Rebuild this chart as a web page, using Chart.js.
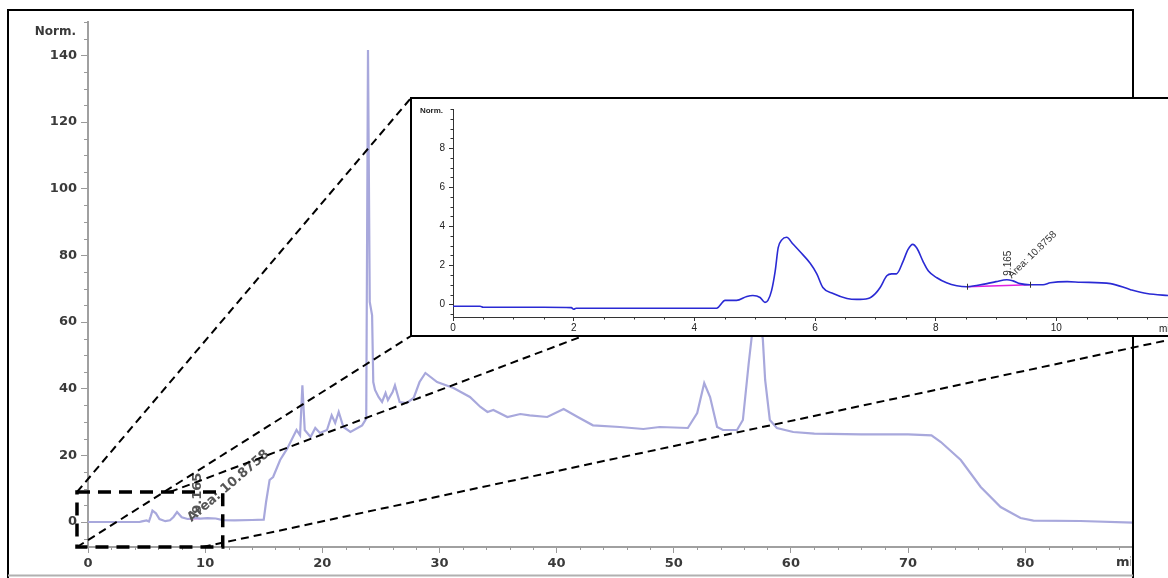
<!DOCTYPE html>
<html><head><meta charset="utf-8">
<script src="https://cdn.jsdelivr.net/npm/chart.js@4.4.1/dist/chart.umd.min.js"></script>
<style>
html,body{margin:0;padding:0;background:#fff;overflow:hidden;width:1168px;height:578px;}
#main{position:absolute;left:0;top:0;}
#insetBox{position:absolute;left:410px;top:97px;width:790px;height:240px;border:2px solid #000;box-sizing:border-box;background:#fff;}
#inset{position:absolute;left:0;top:0;}
</style></head><body>
<canvas id="main" width="1168" height="578"></canvas>
<div id="insetBox"><canvas id="inset" width="786" height="236"></canvas></div>
<script>
// ---- main chromatogram (time in min, signal in Norm.) ----
const mainX = [0,4.4,4.6,5.0,5.2,5.35,5.5,5.8,6.1,6.6,
  7.0,7.3,7.6,8.0,8.5,9.2,9.6,10.2,10.9,11.5,
  12.5,14.0,15.0,15.2,15.5,15.8,16.4,17.0,17.5,17.8,
  18.1,18.3,18.5,19.0,19.4,19.8,20.4,20.8,21.1,21.4,
  21.8,22.4,23.4,23.75,23.9,24.05,24.25,24.35,24.5,24.8,
  25.1,25.4,25.6,26.0,26.2,26.6,27.2,27.8,28.3,28.8,
  29.8,31.2,32.6,33.5,34.1,34.6,35.8,36.9,37.7,39.2,
  40.6,41.8,43.1,45.4,47.4,48.8,51.2,52.0,52.6,53.1,
  53.7,54.2,55.4,55.9,56.4,56.8,57.2,57.6,57.8,58.2,
  58.8,60.2,62.0,66.0,70.0,72.0,72.8,74.5,76.2,77.9,
  79.6,80.7,84.7,89.2];
const mainY = [0,0,0.2,0.45,0.15,1.7,3.4,2.6,0.9,0.25,
  0.5,1.5,3.0,1.4,0.9,1.25,1.0,1.15,1.05,0.55,
  0.5,0.6,0.7,6,12.6,13.5,18.6,22,25.5,27.6,
  26,41,27.6,25.5,28.2,26.7,27.6,32,29.7,33,
  28.5,27,29,31,141.6,66,62,42,39.6,37.5,
  36,38.7,36.6,39,41,36,35.7,37.2,42,44.7,
  42,40.2,37.5,34.5,33,33.6,31.5,32.4,32,31.5,
  33.9,31.5,29,28.5,27.9,28.5,28.2,32.7,41.7,37.5,
  28.5,27.6,27.6,30.6,47.7,60,62,55,42.6,30.6,
  28.2,27,26.5,26.3,26.3,26,24,18.6,10.5,4.5,
  1.2,0.4,0.3,-0.2];
const mainXTicks = [0,10,20,30,40,50,60,70,80];
const mainYTicks = [0,20,40,60,80,100,120,140];

// ---- inset (zoom of 0-12 min) ----
const insetX = [0,0.45,0.5,1.0,1.5,1.96,2.0,2.04,2.5,3.0,
  3.5,4.0,4.37,4.51,4.7,4.87,4.97,5.09,5.17,5.22,
  5.28,5.34,5.39,5.45,5.53,5.63,5.75,5.92,6.03,6.13,
  6.3,6.53,6.69,6.88,7.0,7.08,7.19,7.27,7.35,7.46,
  7.54,7.62,7.69,7.79,7.88,8.02,8.18,8.35,8.52,8.7,
  8.85,9.0,9.18,9.28,9.4,9.56,9.78,9.9,10.18,10.4,
  10.9,11.23,11.5,11.85,12.0];
const insetY = [-0.1,-0.1,-0.15,-0.15,-0.15,-0.17,-0.25,-0.2,-0.2,-0.2,
  -0.2,-0.2,-0.2,0.2,0.2,0.4,0.45,0.35,0.1,0.2,
  0.7,1.7,2.9,3.3,3.43,3.1,2.7,2.1,1.56,0.86,
  0.55,0.3,0.25,0.3,0.55,0.86,1.46,1.56,1.56,2.2,
  2.8,3.07,2.87,2.2,1.7,1.36,1.1,0.95,0.9,0.98,
  1.06,1.16,1.26,1.2,1.06,1.0,1.0,1.1,1.16,1.13,
  1.06,0.75,0.55,0.45,0.42];
const insetXTicks = [0,2,4,6,8,10];
const insetYTicks = [0,2,4,6,8];

// integrated peak
const peakRT = 9.165;
const peakHeight = 1.26;
const peakArea = '10.8758';
const baseX = [8.52, 9.56];
const baseY = [0.9, 1.0];

const zoomBox = {x0:-0.94, x1:11.5, y0:-7.5, y1:9};

const pts = (xs, ys) => xs.map((v,i)=>({x:v, y:ys[i]}));
const MAINFONT = '"DejaVu Sans", sans-serif';
const INFONT = '"Liberation Sans", Arial, sans-serif';

const mainDecor = {
  id:'mainDecor',
  afterDraw(chart){
    const {ctx, chartArea:ca} = chart;
    const x = chart.scales.x, y = chart.scales.y;
    ctx.save();
    // minor ticks
    ctx.strokeStyle = '#9a9a9a'; ctx.lineWidth = 1;
    ctx.beginPath();
    for (let v=-5; v<=150; v+=5){
      if (v%20===0) continue;
      const py = Math.round(y.getPixelForValue(v))+0.5;
      ctx.moveTo(ca.left-4, py); ctx.lineTo(ca.left, py);
    }
    for (let v=2; v<=88; v+=2){
      if (v%10===0) continue;
      const px = Math.round(x.getPixelForValue(v))+0.5;
      ctx.moveTo(px, ca.bottom); ctx.lineTo(px, ca.bottom+3);
    }
    ctx.stroke();
    // axis unit labels
    ctx.fillStyle = '#3a3a3a';
    ctx.font = 'bold 12px '+MAINFONT;
    ctx.textAlign = 'right'; ctx.textBaseline = 'middle';
    ctx.fillText('Norm.', ca.left-12, y.getPixelForValue(147));
    ctx.save();
    ctx.beginPath(); ctx.rect(0,0,ca.right-2,578); ctx.clip();
    ctx.font = 'bold 13px '+MAINFONT;
    ctx.textAlign = 'left';
    ctx.fillText('min', ca.right-17, ca.bottom+16);
    ctx.restore();
    // peak annotation
    const px = x.getPixelForValue(peakRT), py = y.getPixelForValue(peakHeight);
    ctx.fillStyle = '#555';
    ctx.font = 'bold 13px '+MAINFONT;
    ctx.save(); ctx.translate(px+2, py-4); ctx.rotate(-Math.PI/2);
    ctx.textAlign='left'; ctx.textBaseline='middle'; ctx.fillText(String(peakRT),0,0); ctx.restore();
    ctx.save(); ctx.translate(px-6, py+2); ctx.rotate(-0.71);
    ctx.textAlign='left'; ctx.textBaseline='middle'; ctx.fillText('Area: '+peakArea,0,0); ctx.restore();
    // frame
    ctx.strokeStyle = '#000'; ctx.lineWidth = 2;
    ctx.beginPath();
    ctx.moveTo(8, 578); ctx.lineTo(8, 10); ctx.lineTo(1133, 10); ctx.lineTo(1133, 578);
    ctx.stroke();
    ctx.strokeStyle = '#b0b0b0'; ctx.beginPath(); ctx.moveTo(8,575.5); ctx.lineTo(1133,575.5); ctx.stroke();
    // dashed zoom box
    const bx0 = x.getPixelForValue(zoomBox.x0), bx1 = x.getPixelForValue(zoomBox.x1);
    const by0 = y.getPixelForValue(zoomBox.y0), by1 = y.getPixelForValue(zoomBox.y1);
    ctx.strokeStyle = '#000'; ctx.lineWidth = 3.5; ctx.setLineDash([13,8]);
    ctx.strokeRect(bx0, by1, bx1-bx0, by0-by1);
    // connectors to inset
    const box = document.getElementById('insetBox');
    const L = box.offsetLeft+1, T = box.offsetTop+1, B = box.offsetTop+box.offsetHeight-1;
    ctx.lineWidth = 2; ctx.setLineDash([8,5]);
    const seg = (a,b,c,d)=>{ctx.beginPath();ctx.moveTo(a,b);ctx.lineTo(c,d);ctx.stroke();};
    seg(bx0, by1, L, T);
    seg(bx0, by0, L, B);
    seg(x.getPixelForValue(7.0), by1, L+172, B);
    seg(x.getPixelForValue(9.8), by0, L+790, B-3);
    ctx.restore();
  }
};

new Chart(document.getElementById('main'), {
  type:'line',
  data:{datasets:[
    {data:pts(mainX, mainY), borderColor:'#a8a8dc', borderWidth:2.2, pointRadius:0, tension:0},
    {data:pts(baseX, baseY), borderColor:'#e030e0', borderWidth:1.2, pointRadius:0}
  ]},
  options:{
    responsive:false, animation:false, events:[],
    layout:{padding:{left:0, top:22, right:35, bottom:0}},
    plugins:{legend:{display:false}, tooltip:{enabled:false}},
    scales:{
      x:{type:'linear', min:0, max:89.2,
        afterBuildTicks:s=>{s.ticks = mainXTicks.map(v=>({value:v}));},
        afterFit:s=>{s.height = 31;},
        ticks:{autoSkip:false, maxRotation:0, padding:3, color:'#3a3a3a', font:{family:MAINFONT, size:13, weight:'bold'}},
        grid:{drawOnChartArea:false, drawTicks:true, tickLength:6, color:'#9a9a9a'},
        border:{display:true, color:'#a0a0a0', width:2}},
      y:{type:'linear', min:-7.5, max:150,
        afterBuildTicks:s=>{s.ticks = mainYTicks.map(v=>({value:v}));},
        afterFit:s=>{s.width = 88;},
        ticks:{padding:4, color:'#3a3a3a', font:{family:MAINFONT, size:13, weight:'bold'}},
        grid:{drawOnChartArea:false, drawTicks:true, tickLength:7, color:'#9a9a9a'},
        border:{display:true, color:'#a0a0a0', width:2}}
    }
  },
  plugins:[mainDecor]
});

const insetDecor = {
  id:'insetDecor',
  afterDraw(chart){
    const {ctx, chartArea:ca} = chart;
    const x = chart.scales.x, y = chart.scales.y;
    ctx.save();
    ctx.strokeStyle = '#333'; ctx.lineWidth = 1;
    ctx.beginPath();
    for (let v=-0.5; v<=10.001; v+=0.5){
      if (Math.abs(v/2-Math.round(v/2))<1e-6 && v<=8) continue;
      const py = Math.round(y.getPixelForValue(v))+0.5;
      ctx.moveTo(ca.left-2.5, py); ctx.lineTo(ca.left, py);
    }
    for (let v=0.5; v<=12; v+=0.5){
      if (Math.abs(v/2-Math.round(v/2))<1e-6) continue;
      const px = Math.round(x.getPixelForValue(v))+0.5;
      ctx.moveTo(px, ca.bottom); ctx.lineTo(px, ca.bottom+2.5);
    }
    // integration end markers
    for (let i=0;i<2;i++){
      const px = Math.round(x.getPixelForValue(baseX[i]))+0.5, py = y.getPixelForValue(baseY[i]);
      ctx.moveTo(px, py-3); ctx.lineTo(px, py+3);
    }
    ctx.stroke();
    ctx.fillStyle = '#222';
    ctx.font = 'bold 8px '+INFONT;
    ctx.textAlign='right'; ctx.textBaseline='middle';
    ctx.fillText('Norm.', ca.left-10, ca.top+2);
    ctx.font = '10px '+INFONT; ctx.textAlign='left';
    ctx.fillText('min', x.getPixelForValue(11.7), ca.bottom+12);
    const px = x.getPixelForValue(peakRT), py = y.getPixelForValue(peakHeight);
    ctx.fillStyle = '#333';
    ctx.save(); ctx.translate(px+2, py-4); ctx.rotate(-Math.PI/2);
    ctx.textBaseline='middle'; ctx.fillText(String(peakRT),0,0); ctx.restore();
    ctx.save(); ctx.translate(px+4, py-3); ctx.rotate(-0.77);
    ctx.textBaseline='middle'; ctx.fillText('Area: '+peakArea,0,0); ctx.restore();
    ctx.restore();
  }
};

new Chart(document.getElementById('inset'), {
  type:'line',
  data:{datasets:[
    {data:pts(insetX, insetY), borderColor:'#2a2ad4', borderWidth:1.6, pointRadius:0, cubicInterpolationMode:'monotone'},
    {data:pts(baseX, baseY), borderColor:'#e020e0', borderWidth:1.4, pointRadius:0}
  ]},
  options:{
    responsive:false, animation:false, events:[],
    layout:{padding:{left:0, top:6, right:21, bottom:0}},
    plugins:{legend:{display:false}, tooltip:{enabled:false}},
    scales:{
      x:{type:'linear', min:0, max:12,
        afterBuildTicks:s=>{s.ticks = insetXTicks.map(v=>({value:v}));},
        afterFit:s=>{s.height = 18;},
        ticks:{autoSkip:false, maxRotation:0, padding:1, color:'#222', font:{family:INFONT, size:10}},
        grid:{drawOnChartArea:false, drawTicks:true, tickLength:4, color:'#333'},
        border:{display:true, color:'#333', width:1}},
      y:{type:'linear', min:-0.65, max:10,
        afterBuildTicks:s=>{s.ticks = insetYTicks.map(v=>({value:v}));},
        afterFit:s=>{s.width = 41;},
        ticks:{padding:4, color:'#222', font:{family:INFONT, size:10}},
        grid:{drawOnChartArea:false, drawTicks:true, tickLength:4, color:'#333'},
        border:{display:true, color:'#333', width:1}}
    }
  },
  plugins:[insetDecor]
});
</script>
</body></html>
